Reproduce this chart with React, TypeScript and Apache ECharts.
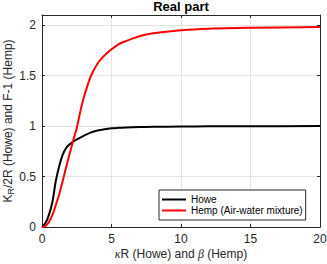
import React, { useEffect, useRef } from "react";
import * as echarts from "echarts";

const xValues = [0, 0.25, 0.5, 0.75, 1, 1.25, 1.5, 1.75, 2, 2.25, 2.5, 2.75, 3, 3.5, 4, 4.5, 5, 5.5, 6, 7, 8, 10, 12, 15, 20];
const howeValues = [0, 0.04, 0.12, 0.25, 0.46, 0.61, 0.72, 0.785, 0.82, 0.846, 0.867, 0.886, 0.903, 0.935, 0.955, 0.968, 0.977, 0.982, 0.986, 0.99, 0.992, 0.995, 0.997, 0.998, 1.0];
const hempValues = [0, 0.01, 0.05, 0.12, 0.22, 0.33, 0.46, 0.6, 0.73, 0.86, 0.98, 1.14, 1.28, 1.49, 1.62, 1.7, 1.76, 1.81, 1.84, 1.89, 1.92, 1.95, 1.965, 1.973, 1.98];
const seriesNames = ["Howe", "Hemp (Air-water mixture)"];
const titleText = "Real part";

const FONT = "'Liberation Sans', Arial, Helvetica, sans-serif";
const AX = "#262626";
const GRID = "#e3e3e3";

export default function App() {
  const ref = useRef<HTMLDivElement>(null);
  useEffect(() => {
    if (!ref.current) return;
    const chart = echarts.init(ref.current, undefined, { renderer: "svg" });
    const pair = (ys: number[]) => xValues.map((x, i) => [x, ys[i]]);
    const tickCommon = { show: true, inside: true, length: 3, lineStyle: { color: AX, width: 1 } };
    chart.setOption({
      animation: false,
      backgroundColor: "#ffffff",
      grid: { left: 42, right: 7, top: 15, bottom: 37, containLabel: false, outerBoundsMode: "none" },
      graphic: [
        {
          type: "text",
          x: 181,
          y: 6,
          style: { text: titleText, textAlign: "center", textVerticalAlign: "middle", font: `bold 13px ${FONT}`, fill: "#000" },
        },
      ],
      xAxis: [
        {
          type: "value",
          min: 0,
          max: 20,
          interval: 5,
          position: "bottom",
          axisLine: { show: true, onZero: false, lineStyle: { color: AX, width: 1 } },
          axisTick: tickCommon,
          splitLine: { show: true, lineStyle: { color: GRID, width: 1 } },
          axisLabel: { fontSize: 12, fontFamily: FONT, color: AX, margin: 6 },
          name: "{i|κ}{n|R (Howe) and }{i|β}{n| (Hemp)}",
          nameLocation: "middle",
          nameGap: 21,
          nameMoveOverlap: false,
          nameTextStyle: {
            rich: {
              n: { fontSize: 12, fontFamily: FONT, color: AX },
              i: { fontSize: 12, fontFamily: "'Liberation Serif', serif", fontStyle: "italic", color: AX },
            },
          },
        },
        {
          type: "value",
          min: 0,
          max: 20,
          interval: 5,
          position: "top",
          axisLine: { show: true, onZero: false, lineStyle: { color: AX, width: 1 } },
          axisTick: tickCommon,
          splitLine: { show: false },
          axisLabel: { show: false },
        },
      ],
      yAxis: [
        {
          type: "value",
          min: 0,
          max: 2.1,
          interval: 0.5,
          position: "left",
          axisLine: { show: true, onZero: false, lineStyle: { color: AX, width: 1 } },
          axisTick: tickCommon,
          splitLine: { show: true, lineStyle: { color: GRID, width: 1 } },
          axisLabel: { fontSize: 12, fontFamily: FONT, color: AX, margin: 6, showMaxLabel: false },
          name: "{n|K}{s|R}{n|/2R (Howe) and F-1 (Hemp)}",
          nameLocation: "middle",
          nameRotate: 90,
          nameGap: 27,
          nameMoveOverlap: false,
          nameTextStyle: {
            rich: {
              n: { fontSize: 12, fontFamily: FONT, color: AX, lineHeight: 14, verticalAlign: "middle" },
              s: { fontSize: 9, fontFamily: FONT, color: AX, lineHeight: 14, verticalAlign: "bottom", padding: [5, 0, 0, 0] },
            },
          },
        },
        {
          type: "value",
          min: 0,
          max: 2.1,
          interval: 0.5,
          position: "right",
          axisLine: { show: true, onZero: false, lineStyle: { color: AX, width: 1 } },
          axisTick: tickCommon,
          splitLine: { show: false },
          axisLabel: { show: false },
        },
      ],
      legend: {
        show: true,
        orient: "vertical",
        left: 159,
        top: 190,
        backgroundColor: "#ffffff",
        borderColor: AX,
        borderWidth: 1,
        borderRadius: 0,
        padding: [4, 3, 4, 3],
        itemGap: 0,
        itemWidth: 24,
        itemHeight: 2,
        icon: "rect",
        textStyle: { fontSize: 10, fontFamily: FONT, color: "#000", lineHeight: 11 },
        data: seriesNames,
      },
      series: [
        {
          name: seriesNames[0],
          type: "line",
          xAxisIndex: 0,
          yAxisIndex: 0,
          data: pair(howeValues),
          symbol: "none",
          smooth: 0.3,
          lineStyle: { color: "#000000", width: 2 },
          itemStyle: { color: "#000000" },
        },
        {
          name: seriesNames[1],
          type: "line",
          xAxisIndex: 0,
          yAxisIndex: 0,
          data: pair(hempValues),
          symbol: "none",
          smooth: 0.3,
          lineStyle: { color: "#ff0000", width: 2 },
          itemStyle: { color: "#ff0000" },
        },
      ],
    });
    return () => chart.dispose();
  }, []);
  return <div ref={ref} style={{ position: "fixed", left: 0, top: 0, width: 327, height: 264 }} />;
}
